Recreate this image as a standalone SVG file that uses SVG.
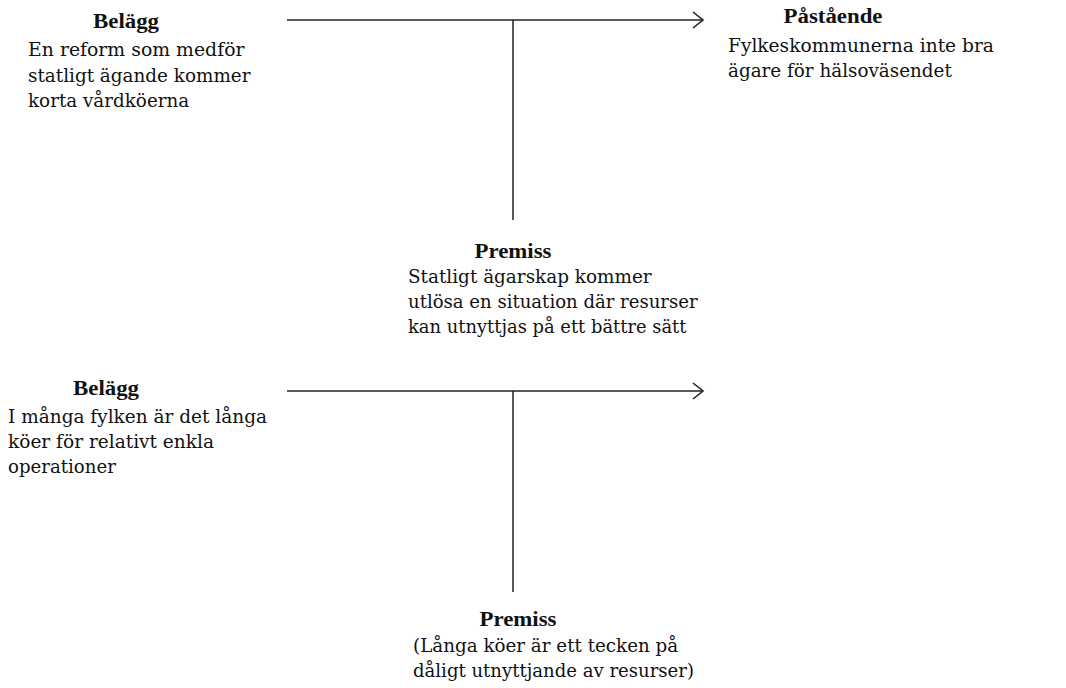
<svg xmlns="http://www.w3.org/2000/svg" width="1066" height="688" viewBox="0 0 1066 688">
  <style>
    .title { font-family: "Liberation Serif", serif; font-size: 20.5px; font-weight: bold; fill: #111; text-anchor: middle; }
    .body { font-family: "DejaVu Serif", serif; font-size: 19px; font-weight: normal; fill: #111; }
    .c { stroke: #222; stroke-width: 1.5; fill: none; }
  </style>
  <defs>
    <marker id="arr" markerUnits="userSpaceOnUse" markerWidth="14" markerHeight="20" refX="11" refY="9" orient="auto">
      <path d="M1,1 L11,9 L1,17" fill="none" stroke="#222" stroke-width="1.6"/>
    </marker>
  </defs>
  <rect width="1066" height="688" fill="#fff"/>
  <g id="connectors">
    <line class="c" x1="287" y1="20" x2="703" y2="20" marker-end="url(#arr)"/>
    <line class="c" x1="513" y1="20" x2="513" y2="220"/>
    <line class="c" x1="287" y1="391" x2="703" y2="391" marker-end="url(#arr)"/>
    <line class="c" x1="513" y1="391" x2="513" y2="592"/>
  </g>
  <g id="belagg1">
    <text class="title" x="126" y="28" textLength="66" lengthAdjust="spacingAndGlyphs">Belägg</text>
    <text class="body" x="28" y="56" textLength="216.5" lengthAdjust="spacingAndGlyphs">En reform som medför</text>
    <text class="body" x="28" y="82" textLength="222.5" lengthAdjust="spacingAndGlyphs">statligt ägande kommer</text>
    <text class="body" x="28" y="107" textLength="161.2" lengthAdjust="spacingAndGlyphs">korta vårdköerna</text>
  </g>
  <g id="pastaende">
    <text class="title" x="833" y="23" textLength="99" lengthAdjust="spacingAndGlyphs">Påstående</text>
    <text class="body" x="728" y="52" textLength="265.9" lengthAdjust="spacingAndGlyphs">Fylkeskommunerna inte bra</text>
    <text class="body" x="728" y="77" textLength="223.8" lengthAdjust="spacingAndGlyphs">ägare för hälsoväsendet</text>
  </g>
  <g id="premiss1">
    <text class="title" x="513" y="258" textLength="77" lengthAdjust="spacingAndGlyphs">Premiss</text>
    <text class="body" x="408" y="283" textLength="243.6" lengthAdjust="spacingAndGlyphs">Statligt ägarskap kommer</text>
    <text class="body" x="408" y="308" textLength="289.6" lengthAdjust="spacingAndGlyphs">utlösa en situation där resurser</text>
    <text class="body" x="408" y="333" textLength="278.5" lengthAdjust="spacingAndGlyphs">kan utnyttjas på ett bättre sätt</text>
  </g>
  <g id="belagg2">
    <text class="title" x="106" y="395" textLength="66" lengthAdjust="spacingAndGlyphs">Belägg</text>
    <text class="body" x="8" y="423" textLength="259" lengthAdjust="spacingAndGlyphs">I många fylken är det långa</text>
    <text class="body" x="8" y="448" textLength="206" lengthAdjust="spacingAndGlyphs">köer för relativt enkla</text>
    <text class="body" x="8" y="473" textLength="107.9" lengthAdjust="spacingAndGlyphs">operationer</text>
  </g>
  <g id="premiss2">
    <text class="title" x="518" y="626" textLength="77" lengthAdjust="spacingAndGlyphs">Premiss</text>
    <text class="body" x="413" y="652" textLength="265.2" lengthAdjust="spacingAndGlyphs">(Långa köer är ett tecken på</text>
    <text class="body" x="413" y="677" textLength="281" lengthAdjust="spacingAndGlyphs">dåligt utnyttjande av resurser)</text>
  </g>
</svg>
